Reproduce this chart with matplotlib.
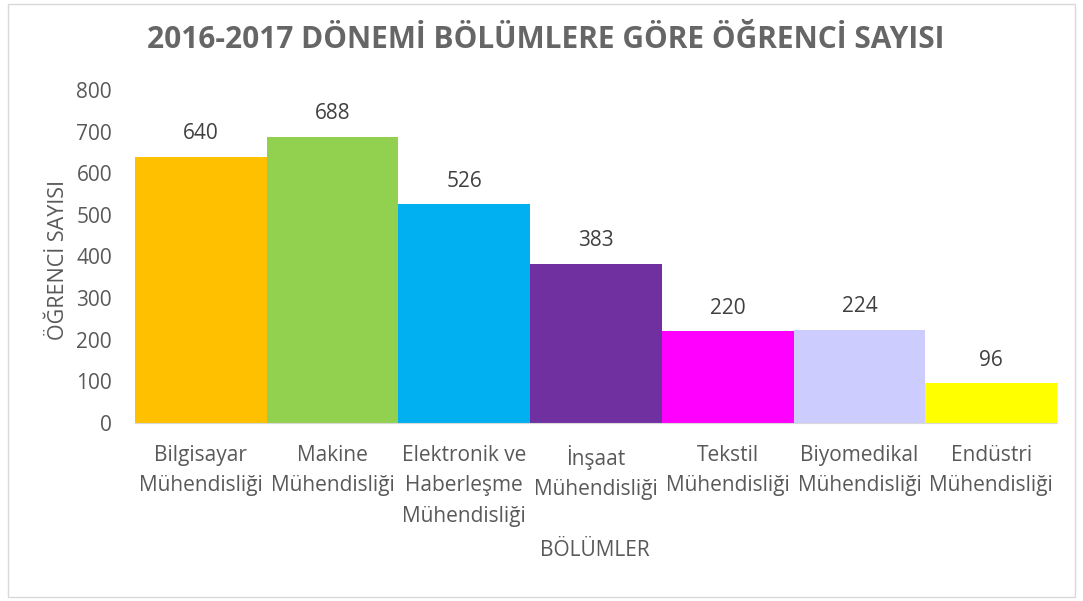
import matplotlib.pyplot as plt
from matplotlib.patches import Rectangle

plt.rcParams['font.family'] = ['Open Sans', 'DejaVu Sans']

bolumler = ['Bilgisayar\nMühendisliği', 'Makine\nMühendisliği', 'Elektronik ve\nHaberleşme\nMühendisliği',
            'İnşaat\nMühendisliği', 'Tekstil\nMühendisliği', 'Biyomedikal\nMühendisliği', 'Endüstri\nMühendisliği']
ogrenci = [640, 688, 526, 383, 220, 224, 96]
renkler = ['#FFC000', '#92D050', '#00B0F0', '#7030A0', '#FF00FF', '#CCCCFF', '#FFFF00']

grey = '#595959'
W, H = 1083, 601
fig = plt.figure(figsize=(W / 100, H / 100), dpi=100)
ax = fig.add_axes([135 / W, 1 - 423 / H, 922 / W, 333 / H])

x = range(len(ogrenci))
bars = ax.bar(x, ogrenci, width=1.0, color=renkler)
for b, v in zip(bars, ogrenci):
    ax.text(b.get_x() + b.get_width() / 2, v + 30, str(v), ha='center', va='bottom',
            fontsize=15, color='#404040')

ax.set_xlim(-0.5, len(ogrenci) - 0.5)
ax.set_ylim(0, 800)
ax.set_yticks(range(0, 801, 100))
ax.set_xticks(list(x))
ax.set_xticklabels(bolumler, fontsize=15, color=grey, linespacing=1.6)
ax.tick_params(axis='y', labelsize=15, labelcolor=grey, length=0, pad=16.5)
ax.tick_params(axis='x', length=0, pad=15.5)
for s in ['top', 'right', 'left']:
    ax.spines[s].set_visible(False)
ax.spines['bottom'].set_color('#D9D9D9')

fig.text(59 / W, 1 - 260 / H, 'ÖĞRENCİ SAYISI', rotation=90, ha='center', va='center',
         fontsize=15.5, color=grey)
fig.text(595 / W, 1 - 550 / H, 'BÖLÜMLER', ha='center', va='center', fontsize=15, color=grey)

fig.text(546 / W, 1 - 40 / H, '2016-2017 DÖNEMİ BÖLÜMLERE GÖRE ÖĞRENCİ SAYISI', ha='center', va='center',
         fontsize=21.5, fontweight='bold', color='#666666')

fig.patches.append(Rectangle((8 / W, 4 / H), 1067 / W, 593 / H, transform=fig.transFigure,
                             fill=False, edgecolor='#D9D9D9', linewidth=1))

fig.savefig('out.png', dpi=100)
